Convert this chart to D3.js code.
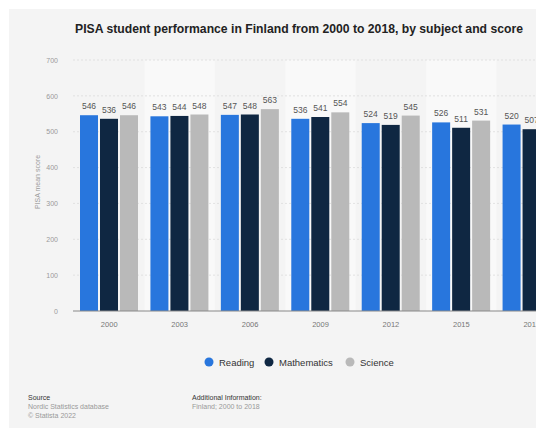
<!DOCTYPE html>
<html><head><meta charset="utf-8">
<script src="https://cdn.jsdelivr.net/npm/d3@7"></script>
<style>
html,body{margin:0;padding:0;background:#fff;overflow:hidden}
text{font-family:"Liberation Sans",Arial,Helvetica,sans-serif}
</style></head>
<body><svg id="c" width="536" height="434"></svg>
<script>
const years = ["2000","2003","2006","2009","2012","2015","2018"];
const subjects = ["Reading","Mathematics","Science"];
const reading = [546,543,547,536,524,526,520];
const mathematics = [536,544,548,541,519,511,507];
const science = [546,548,563,554,545,531,522];
const yTicks = [0,100,200,300,400,500,600,700];
const colors = ["#2876dd","#0f2742","#b9b9b9"];
const seriesVals = [reading, mathematics, science];

const svg = d3.select("#c");
svg.append("rect").attr("x",9).attr("y",9).attr("width",540).attr("height",419).attr("fill","#f4f4f4");

const y = d3.scaleLinear().domain([0,700]).range([311,60]);
const x0 = d3.scaleBand().domain(years).range([74,567]).padding(0);
const x1 = d3.scaleBand().domain(subjects).range([6,64]).paddingInner(0.1);

// alternating bands
svg.append("g").selectAll("rect").data(years.filter((d,i)=>i%2===1)).join("rect")
  .attr("x",d=>x0(d)).attr("y",y(700)).attr("width",x0.bandwidth()).attr("height",y(0)-y(700))
  .attr("fill","#f9f9f9");

// grid
const gy = svg.append("g").attr("transform","translate(73,0)")
  .call(d3.axisLeft(y).tickValues(yTicks).tickSize(0).tickPadding(15));
gy.select(".domain").remove();
gy.selectAll("text").attr("fill","#9a9a9a").attr("font-size",7);
svg.append("g").selectAll("line").data(yTicks.filter(t=>t>0)).join("line")
  .attr("x1",73).attr("x2",536).attr("y1",d=>y(d)).attr("y2",d=>y(d))
  .attr("stroke","#dcdcdc").attr("stroke-width",0.8).attr("stroke-dasharray","2,2");

svg.append("text").attr("transform","translate(40,182) rotate(-90)").attr("text-anchor","middle")
  .attr("font-size",7).attr("fill","#9a9a9a").text("PISA mean score");

// bars
const g = svg.append("g");
years.forEach((yr,i)=>{
  subjects.forEach((s,j)=>{
    const v = seriesVals[j][i];
    g.append("rect").attr("x",x0(yr)+x1(s)).attr("y",y(v)).attr("width",x1.bandwidth())
      .attr("height",y(0)-y(v)).attr("fill",colors[j]);
    g.append("text").attr("x",x0(yr)+x1(s)+x1.bandwidth()/2).attr("y",y(v)-6)
      .attr("text-anchor","middle").attr("font-size",8.5).attr("fill","#555").text(v);
  });
});

// x axis
svg.append("line").attr("x1",73).attr("x2",536).attr("y1",y(0)).attr("y2",y(0))
  .attr("stroke","#888").attr("stroke-width",1);
const gx = svg.append("g").attr("transform",`translate(0,${y(0)})`)
  .call(d3.axisBottom(x0).tickSize(0).tickPadding(11));
gx.select(".domain").remove();
gx.selectAll("text").attr("fill","#777").attr("font-size",7.5);

// title
svg.append("text").attr("x",299).attr("y",33).attr("text-anchor","middle")
  .attr("font-size",12.2).attr("font-weight","bold").attr("fill","#222")
  .text("PISA student performance in Finland from 2000 to 2018, by subject and score");

// legend
const legX = [209,269,350];
subjects.forEach((s,j)=>{
  svg.append("circle").attr("cx",legX[j]).attr("cy",362).attr("r",4.5).attr("fill",colors[j]);
  svg.append("text").attr("x",legX[j]+10).attr("y",365.5).attr("font-size",9.5)
    .attr("fill","#333").text(s);
});

// footer
const ft = [
  [28,400,"Source","#333"],[28,409,"Nordic Statistics database","#999"],[28,418,"© Statista 2022","#999"],
  [192,400,"Additional Information:","#333"],[192,409,"Finland; 2000 to 2018","#999"]
];
ft.forEach(f=>svg.append("text").attr("x",f[0]).attr("y",f[1]).attr("font-size",7).attr("fill",f[3]).text(f[2]));
</script></body></html>
